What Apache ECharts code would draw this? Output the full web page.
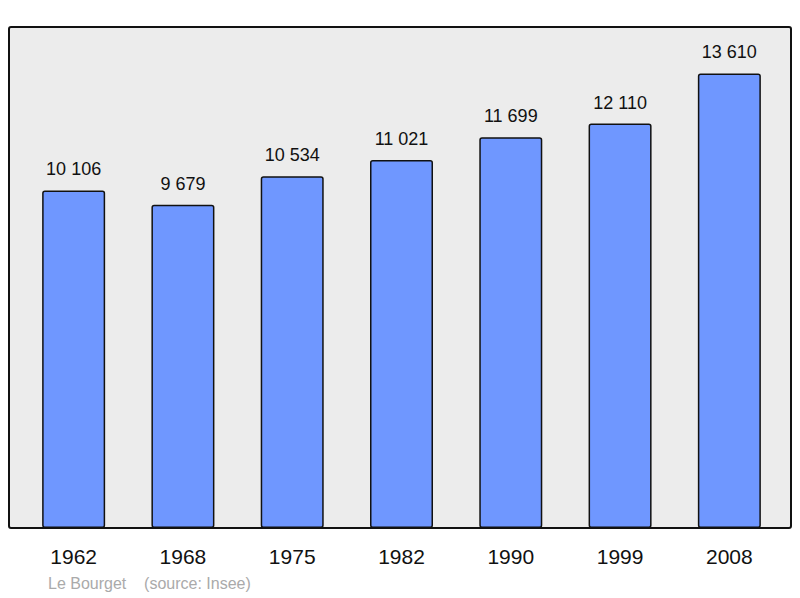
<!DOCTYPE html>
<html><head><meta charset="utf-8">
<script src="https://cdn.jsdelivr.net/npm/echarts@6/dist/echarts.min.js"></script>
<style>html,body{margin:0;padding:0;background:#fff}#c{width:800px;height:598px}</style>
</head><body><div id="c"></div>
<script>
var years = ['1962','1968','1975','1982','1990','1999','2008'];
var population = [10106, 9679, 10534, 11021, 11699, 12110, 13610];
var fmt = function(v){ return String(v).replace(/\B(?=(\d{3})+(?!\d))/g, ' '); };
var chart = echarts.init(document.getElementById('c'), null, {renderer:'svg'});
chart.setOption({
  animation:false,
  graphic:[
    {type:'rect', z:-10, shape:{x:9,y:27,width:782,height:501,r:2}, style:{fill:'#ececec',stroke:'#111',lineWidth:2}},
    {type:'text', left:48, top:575, style:{text:'Le Bourget    (source: Insee)', fill:'#aaaaaa', font:'16px "Liberation Sans", Arial, sans-serif'}}
  ],
  grid:{left:19,right:16,top:27,bottom:70},
  xAxis:{type:'category', data:years, axisLine:{show:false}, axisTick:{show:false},
    axisLabel:{margin:18, fontSize:21, color:'#111', fontFamily:'"Liberation Sans", Arial, sans-serif'}},
  yAxis:{type:'value', min:0, max:15000, show:false, splitLine:{show:false}},
  series:[{type:'bar', data:population, barWidth:63,
    itemStyle:{color:'#6f97ff', borderColor:'#111', borderWidth:1.5, borderRadius:2},
    label:{show:true, position:'top', distance:12, fontSize:18, color:'#111',
      fontFamily:'"Liberation Sans", Arial, sans-serif', formatter:function(p){return fmt(p.value);}}}]
});
</script></body></html>
